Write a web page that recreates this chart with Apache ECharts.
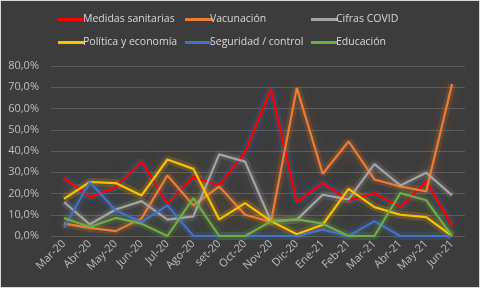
<!DOCTYPE html>
<html>
<head>
<meta charset="utf-8">
<script src="https://cdn.jsdelivr.net/npm/echarts@6/dist/echarts.min.js"></script>
<style>
html,body{margin:0;padding:0;background:#3c3c3c;}
#c{width:478px;height:286px;border:1px solid #d9d9d9;}
</style>
</head>
<body>
<div id="c"></div>
<script>
const categories = ['Mar-20','Abr-20','May-20','Jun-20','Jul-20','Ago-20','set-20','Oct-20','Nov-20','Dic-20','Ene-21','Feb-21','Mar-21','Abr-21','May-21','Jun-21'];
const yTicks = [0,10,20,30,40,50,60,70,80];
const medidas   = [27.4,18.3,23.0,35.1,15.2,27.7,23.8,39.4,69.2,16.0,24.9,16.8,20.2,13.6,25.7,5.0];
const vacunacion= [5.8,3.8,2.3,8.3,28.5,14.4,23.3,10.0,6.6,69.7,29.3,44.5,26.6,23.3,21.0,71.5];
const cifras    = [16.0,5.5,12.5,16.4,7.7,9.2,38.4,35.0,7.0,7.7,19.4,17.2,33.8,23.8,29.8,19.1];
const politica  = [17.5,25.4,24.9,19.1,36.0,31.6,7.8,15.5,7.0,0.8,5.3,22.2,13.6,10.0,8.9,0.0];
const seguridad = [3.9,25.4,12.0,6.6,14.4,0.0,0.0,0.0,0.0,0.0,3.0,0.0,7.0,0.0,0.0,0.0];
const educacion = [8.5,4.2,8.5,5.8,0.0,17.8,0.0,0.0,6.9,7.8,5.8,0.0,0.0,20.2,16.8,0.0];

const names = ['Medidas sanitarias','Vacunación','Cifras COVID','Política y economía','Seguridad / control','Educación'];
const datas = [medidas,vacunacion,cifras,politica,seguridad,educacion];
const colors = ['#ff0000','#ed7d31','#a5a5a5','#ffc000','#4472c4','#70ad47'];
const glowRGB = ['68,114,196','237,125,49','165,165,165','255,192,0','68,114,196','112,173,71'];

const chart = echarts.init(document.getElementById('c'));
const legendBase = {
  orient:'vertical', top:8, itemWidth:27, itemHeight:3, itemGap:12,
  icon:'rect',
  textStyle:{color:'#d9d9d9', fontFamily:'Open Sans', fontSize:10.5, padding:[0,0,0,-7]},
  selectedMode:false
};
const glowSeries = names.map((n,i)=>({
  name:n+' glow', type:'line', data:datas[i], symbol:'none', silent:true, z:1,
  lineStyle:{color:'rgba('+glowRGB[i]+',0.16)', width:8, shadowBlur:14, shadowColor:'rgba('+glowRGB[i]+',0.7)'}
}));
const mainSeries = names.map((n,i)=>({
  name:n, type:'line', data:datas[i], symbol:'none', z:3,
  lineStyle:{color:colors[i], width:2.2},
  itemStyle:{color:colors[i]}
}));
chart.setOption({
  backgroundColor:'#3c3c3c',
  animation:false,
  legend:[
    Object.assign({}, legendBase, {left:52, data:[names[0],names[3]]}),
    Object.assign({}, legendBase, {left:179, data:[names[1],names[4]]}),
    Object.assign({}, legendBase, {left:305, data:[names[2],names[5]]})
  ],
  grid:{left:50, right:14, top:65, bottom:51},
  xAxis:{
    type:'category', data:categories, boundaryGap:true,
    axisLine:{show:false}, axisTick:{show:false},
    axisLabel:{color:'#bfbfbf', fontFamily:'Open Sans', fontSize:11, rotate:45, interval:0, margin:6}
  },
  yAxis:{
    type:'value', min:0, max:80, interval:10,
    axisLine:{show:false}, axisTick:{show:false},
    splitLine:{lineStyle:{color:'#5c5c5c', width:1}},
    axisLabel:{color:'#bfbfbf', fontFamily:'Open Sans', fontSize:11, margin:12,
      formatter:v=>v.toFixed(1).replace('.',',')+'%'}
  },
  series: glowSeries.concat(mainSeries)
});
</script>
</body>
</html>
